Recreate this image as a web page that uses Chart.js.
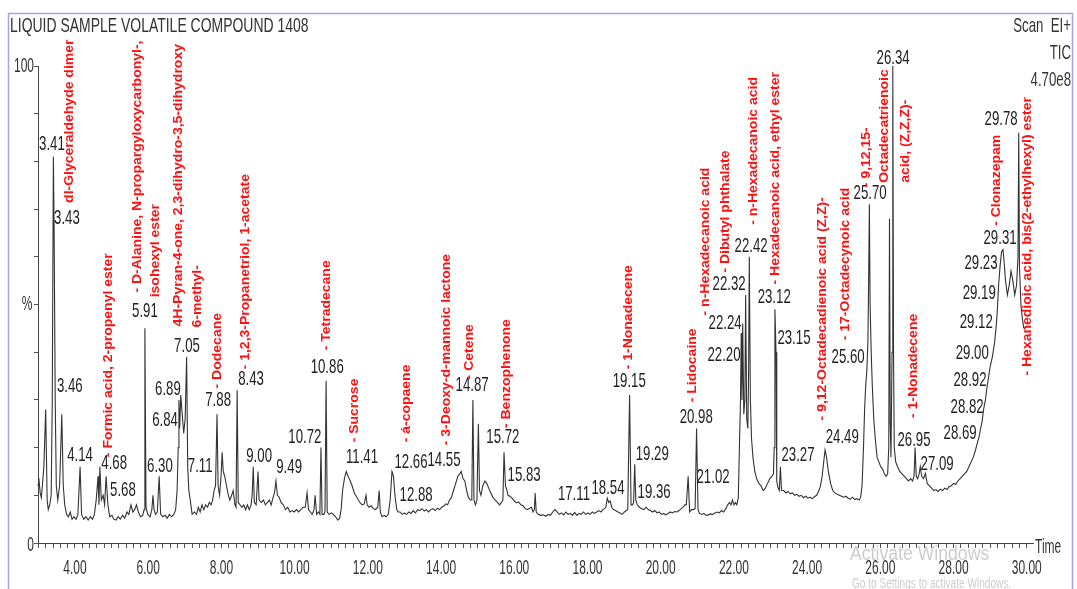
<!DOCTYPE html>
<html>
<head>
<meta charset="utf-8">
<script src="https://cdn.jsdelivr.net/npm/chart.js@4/dist/chart.umd.min.js"></script>
<style>
  html, body { margin: 0; padding: 0; background: #ffffff; }
  #wrap { width: 1077px; height: 589px; position: relative; }
</style>
</head>
<body>
<div id="wrap"><canvas id="tic" width="1077" height="589"></canvas></div>
<script>
// Total ion chromatogram, [retention time (min), relative abundance (%)]
const traceEarly = [
  [2.99,12],[3.02,13],[3.05,10.5],[3.08,9.5],[3.11,12],[3.15,16],[3.20,28],[3.24,9],[3.27,7],[3.31,8],[3.35,10],
  [3.38,30],[3.41,81],[3.43,66],[3.46,30],[3.49,12],[3.53,9],[3.58,12],[3.64,27],[3.68,12],[3.72,8],[3.77,6],
  [3.82,5.5],[3.87,6.5],[3.92,5],[3.97,5.5],[4.03,5],[4.08,6],[4.14,16],[4.18,6],[4.24,5],[4.30,5.5],[4.36,4.8],
  [4.42,5.5],[4.48,5],[4.53,6],[4.58,9],[4.63,14],[4.655,8],[4.68,16],[4.72,9],[4.77,10],[4.81,8],[4.85,14],
  [4.90,8],[4.95,5.5],[5.01,5.8],[5.06,5],[5.12,4.8],[5.18,5.5],[5.24,5],[5.30,5.8],[5.36,5.2],[5.42,6.5],[5.47,6],
  [5.53,8],[5.58,6.5],[5.63,7],[5.68,8],[5.73,6.5],[5.79,5.5],[5.85,5.8],[5.89,7],[5.91,45],[5.94,7.5],[5.99,6],
  [6.05,5.5],[6.10,7],[6.13,10],[6.16,7],[6.20,6],[6.25,6.5],[6.30,14],[6.34,6],[6.40,5.5],[6.46,5.8],[6.52,5.2],
  [6.58,6],[6.64,5.5],[6.70,6],[6.75,7],[6.79,11],[6.82,20],[6.84,30],[6.86,24],[6.89,31],[6.93,27],[6.97,23],
  [7.01,26],[7.05,39],[7.08,16],[7.11,11],[7.15,9],[7.20,6],[7.26,6.5],[7.32,6],[7.37,7.5],[7.42,6.5],[7.47,8],
  [7.52,7],[7.57,8],[7.62,7.5],[7.67,8.5],[7.72,8],[7.76,9],[7.80,11],[7.84,12],[7.88,27],[7.91,12],[7.95,10],
  [7.99,14],[8.02,19],[8.05,15],[8.09,14],[8.14,12],[8.19,10],[8.23,9],[8.28,10],[8.32,11],[8.37,8],[8.40,7.5],
  [8.43,32],[8.46,8.5],[8.51,8],[8.56,7.5],[8.61,8],[8.66,7],[8.71,8],[8.76,7],[8.81,8],[8.84,10],[8.87,16],
  [8.90,8.5],[8.95,8],[9.00,15],[9.03,9],[9.09,8.5],[9.15,9],[9.20,8],[9.26,8.5],[9.31,9],[9.36,8],[9.41,9.5],
  [9.45,10.5],[9.49,13],[9.53,10],[9.58,9.6],[9.63,8.5],[9.69,8],[9.75,7],[9.81,7.5],[9.87,6.5],[9.93,6.8],
  [9.99,6.5],[10.05,7],[10.11,6.5],[10.17,7],[10.23,7.5],[10.29,7.5],[10.34,10.5],[10.38,7],[10.43,6.5],[10.48,6],
  [10.53,7],[10.56,10],[10.60,6],[10.65,6.5],[10.69,6],[10.72,20],[10.75,6],[10.80,6],[10.83,6.5],[10.86,34],
  [10.89,6.5],[10.94,6],[11.00,6.3]
];
const traceMid = [
  [11.06,6],[11.12,5.5],[11.18,4.8],[11.23,5.2],[11.27,7],[11.31,11],[11.36,13.5],[11.41,15],[11.46,14],[11.52,13],
  [11.57,12],[11.63,10.5],[11.70,9.6],[11.78,8.5],[11.85,8],[11.90,8.2],[11.95,10],[11.98,8],[12.03,7.5],[12.09,7.8],
  [12.15,7.2],[12.21,7],[12.27,7.5],[12.31,11],[12.34,6.5],[12.39,5.5],[12.45,5.8],[12.50,5.5],[12.56,6],[12.61,9],
  [12.66,15],[12.70,14],[12.74,10],[12.79,7],[12.83,6.5],[12.88,6.5],[12.94,6],[13.00,6.3],[13.06,6],[13.12,6.5],
  [13.18,6.2],[13.24,6.8],[13.30,6.3],[13.36,7],[13.42,6.8],[13.48,7.2],[13.54,6.7],[13.60,7],[13.66,6.5],[13.72,7],
  [13.78,7.2],[13.84,6.8],[13.90,7.3],[13.96,7],[14.02,7.5],[14.08,7.8],[14.13,8.2],[14.18,8],[14.23,9],[14.28,9.5],
  [14.34,11],[14.40,12.5],[14.46,14],[14.51,14.5],[14.55,15],[14.60,13.5],[14.65,13],[14.70,11],[14.75,9.5],[14.80,9],
  [14.84,9],[14.87,30],[14.90,9],[14.94,8],[14.98,9],[15.02,25],[15.05,11],[15.09,10],[15.14,12],[15.20,13],
  [15.25,12.5],[15.30,11.5],[15.36,10.5],[15.42,9.5],[15.48,9],[15.54,8.5],[15.60,8],[15.65,8.5],[15.69,9],[15.72,19],
  [15.76,12],[15.80,11],[15.83,10],[15.88,9.8],[15.94,9.4],[16.00,8.8],[16.06,8.4],[16.12,8.6],[16.18,8],[16.24,7.8],
  [16.30,7.2],[16.36,7],[16.42,7.3],[16.47,7.5],[16.51,6.5],[16.55,7],[16.57,10.5],[16.60,6.5],[16.65,6],[16.72,5.8],
  [16.79,5.9],[16.86,5.6],[16.93,6],[16.99,5.8],[17.05,6.5],[17.11,7],[17.17,6.5],[17.23,6],[17.29,6.3],[17.35,5.9],
  [17.41,6.5],[17.47,6],[17.53,6.2],[17.59,5.8],[17.65,6.4],[17.71,5.8],[17.77,6.2],[17.83,6],[17.89,6.5],[17.95,6],
  [18.01,6.3],[18.07,6],[18.13,6.5],[18.19,6.2],[18.25,6.5],[18.31,6.8],[18.37,6.5],[18.42,7],[18.47,7.2],[18.50,7.5],
  [18.54,9.4],[18.58,8.5],[18.62,8.8],[18.66,7.5],[18.71,7],[18.77,6.8],[18.83,6.5],[18.89,6.3],[18.95,6],[19.01,6.5],
  [19.06,6.8],[19.10,7],[19.15,31],[19.19,8],[19.23,8],[19.26,8.5],[19.29,16.5],[19.32,9],[19.36,8],[19.42,7.5],
  [19.48,7.2],[19.54,7],[19.60,7.5],[19.66,7],[19.72,6.8],[19.78,6.5],[19.84,6.8],[19.90,6.3],[19.96,6.5],[20.02,6],
  [20.08,6.2],[20.14,5.9],[20.20,6.2],[20.26,6.5],[20.32,6.3],[20.38,6.6],[20.44,6.5],[20.50,6.8],[20.56,7.2],[20.61,7.5],
  [20.66,8],[20.70,8],[20.75,14],[20.79,6.5],[20.84,7],[20.89,7],[20.94,7.2],[20.98,24],[21.02,7],[21.06,6.2],
  [21.12,6],[21.18,6.2],[21.24,5.8],[21.30,5.9],[21.36,6.1],[21.42,6],[21.48,6.3]
];
const traceLate = [
  [21.54,6.5],[21.60,6.3],[21.66,6.8],[21.72,6.5],[21.78,7.2],[21.83,8],[21.88,8.5],[21.92,8],[21.96,9],[22.00,8],
  [22.04,8.5],[22.08,8],[22.12,9.5],[22.15,20],[22.18,30],[22.20,44],[22.22,30],[22.24,46],[22.27,27],[22.30,30],
  [22.32,52],[22.35,26],[22.38,24],[22.40,35],[22.42,60],[22.45,30],[22.48,22],[22.52,18],[22.57,15],[22.62,13.5],
  [22.68,12.5],[22.74,12],[22.80,11],[22.86,11.5],[22.92,12.5],[22.98,13.5],[23.04,14],[23.08,14.5],[23.10,20],[23.12,49],
  [23.15,40],[23.17,13],[23.20,11.7],[23.24,11],[23.27,16],[23.30,11],[23.36,11],[23.42,10.5],[23.48,10.8],[23.54,10.3],
  [23.60,10.5],[23.66,10],[23.72,10.2],[23.78,9.8],[23.84,10],[23.90,9.5],[23.96,9.8],[24.02,9.4],[24.08,9.6],[24.14,9.3],
  [24.20,9.7],[24.26,10],[24.31,10.8],[24.36,11.8],[24.41,14],[24.46,17.5],[24.49,19.5],[24.53,18],[24.58,15],[24.64,12.5],
  [24.70,11],[24.76,10.5],[24.82,10.2],[24.88,10],[24.94,9.8],[25.00,9.6],[25.06,9.8],[25.12,9.4],[25.18,9.2],[25.24,9.6],
  [25.30,9.1],[25.36,9.3],[25.42,9],[25.46,9.5],[25.50,12],[25.54,20],[25.57,28],[25.60,33],[25.63,36],[25.66,42],
  [25.68,55],[25.70,71],[25.72,50],[25.75,40],[25.78,33],[25.82,26],[25.86,22],[25.91,18],[25.96,17],[26.01,16],
  [26.06,15.5],[26.11,14.5],[26.16,14],[26.20,14.5],[26.23,20],[26.25,68],[26.27,25],[26.29,18],[26.32,40],[26.34,100],
  [26.36,40],[26.38,20],[26.42,17],[26.47,16],[26.53,15],[26.59,14.5],[26.65,14],[26.71,13.5],[26.77,13],[26.83,13.5],
  [26.88,13],[26.92,14],[26.95,20],[26.98,14],[27.02,13.5],[27.06,14.5],[27.09,16],[27.13,14],[27.18,13.5],[27.23,14.6],
  [27.28,12.5],[27.34,12],[27.40,11.5],[27.46,11],[27.52,11.2],[27.58,10.8],[27.64,11.3],[27.70,11],[27.76,11.5],[27.82,11.2],
  [27.88,11.8],[27.94,12],[28.00,12.5],[28.06,12.3],[28.12,13],[28.18,13.5],[28.24,14],[28.30,14.5],[28.36,15],[28.42,16],
  [28.48,17],[28.54,18],[28.60,19.5],[28.65,21],[28.69,22],[28.74,24],[28.78,25.5],[28.82,28],[28.87,30],[28.92,33],
  [28.96,35],[29.00,37],[29.06,39],[29.12,42],[29.16,45],[29.19,48],[29.23,54],[29.27,58],[29.31,61],[29.35,61.5],
  [29.38,59],[29.42,55],[29.47,52],[29.52,54],[29.57,57],[29.62,55],[29.67,52],[29.72,54],[29.76,60],[29.78,86],
  [29.80,58],[29.84,50],[29.88,47],[29.92,45]
];

// Retention-time labels printed above the peaks
const peakTimes = ['3.41','3.43','3.46','4.14','4.68','5.68','5.91','6.30','6.84','6.89','7.05','7.11','7.88','8.43',
  '9.00','9.49','10.72','10.86','11.41','12.66','12.88','14.55','14.87','15.72','15.83','17.11','18.54','19.15','19.29',
  '19.36','20.98','21.02','22.20','22.24','22.32','22.42','23.12','23.15','23.27','24.49','25.60','25.70','26.34','26.95',
  '27.09','28.69','28.82','28.92','29.00','29.12','29.19','29.23','29.31','29.78'];

// Compound identifications (one entry per printed line)
const compoundNames = ['dl-Glyceraldehyde dimer','- Formic acid, 2-propenyl ester','- D-Alanine, N-propargyloxycarbonyl-,',
  'isohexyl ester','4H-Pyran-4-one, 2,3-dihydro-3,5-dihydroxy','6-methyl-','- Dodecane','- 1,2,3-Propanetriol, 1-acetate',
  '- Tetradecane','- Sucrose','- á-copaene','- 3-Deoxy-d-mannoic lactone','- Cetene','- Benzophenone','- 1-Nonadecene',
  '- Lidocaine','- n-Hexadecanoic acid','- Dibutyl phthalate','- n-Hexadecanoic acid','- Hexadecanoic acid, ethyl ester',
  '- 9,12-Octadecadienoic acid (Z,Z)-','- 17-Octadecynoic acid','- 9,12,15-','Octadecatrienoic','acid, (Z,Z,Z)-',
  '- 1-Nonadecene','- Clonazepam','- Hexanedioic acid, bis(2-ethylhexyl) ester'];

const timeTickLabels = ['4.00','6.00','8.00','10.00','12.00','14.00','16.00','18.00','20.00','22.00','24.00','26.00','28.00','30.00'];

// Layout: where each text block sits, in axis units [time, %]
const peakLabelAt = [[3.37,83.7],[3.78,68.0],[3.86,32.8],[4.14,18.4],[5.07,16.7],[5.31,11.1],[5.91,48.5],[6.32,16.1],
  [6.46,25.7],[6.54,32.2],[7.06,41.2],[7.42,16.1],[7.91,29.9],[8.81,34.3],[9.03,18.2],[9.85,15.9],[10.28,22.2],[10.89,36.8],
  [11.84,18.0],[13.18,16.9],[13.32,10.0],[14.08,17.4],[14.85,33.1],[15.69,22.2],[16.27,14.2],[17.63,10.3],[18.56,11.5],
  [19.14,33.9],[19.77,18.6],[19.82,10.7],[20.97,26.4],[21.43,13.8],[21.73,39.3],[21.76,46.0],[21.87,54.2],[22.47,62.3],
  [23.10,51.5],[23.64,42.9],[23.75,18.4],[24.96,22.2],[25.12,38.9],[25.72,73.4],[26.35,101.7],[26.92,21.5],[27.55,16.5],
  [28.18,23.0],[28.37,28.5],[28.45,34.1],[28.51,39.7],[28.62,46.2],[28.70,52.3],[28.75,58.6],[29.27,64.0],[29.30,88.9]];
// [time of text column centre, % at the start of the text]
const compoundLabelAt = [[3.84,71.3],[4.90,18.0],[5.69,52.5],[6.19,51.5],[6.81,45.4],[7.33,45.2],[7.88,32.4],[8.64,36.4],
  [10.86,40.4],[11.62,21.1],[13.04,21.1],[14.14,20.5],[14.77,34.3],[15.78,24.1],[19.11,36.4],[20.86,29.5],[21.21,47.7],
  [21.76,56.7],[22.52,66.7],[23.13,54.2],[24.41,25.7],[25.04,42.5],[25.61,74.6],[26.10,75.5],[26.68,75.5],[26.90,26.2],
  [29.16,66.5],[30.01,35.1]];

const points = [...traceEarly, ...traceMid, ...traceLate].map(([t, v]) => ({ x: t, y: v }));

const minorTimes = [];
for (let i = 15; i <= 150; i++) minorTimes.push(i / 5);

const INK = '#222';
const NUM_FONT = '21px "Liberation Sans", Arial, sans-serif';
const AXIS_FONT = '20px "Liberation Sans", Arial, sans-serif';
const RED_FONT = 'bold 14px "Liberation Sans", Arial, sans-serif';

function narrowText(ctx, text, px, py, font, sx, align, color) {
  ctx.save();
  ctx.font = font;
  ctx.fillStyle = color;
  ctx.textAlign = align;
  ctx.textBaseline = 'middle';
  ctx.translate(px, py);
  ctx.scale(sx, 1);
  ctx.fillText(text, 0, 0);
  ctx.restore();
}

function upText(ctx, text, px, py, font, sy, color) {
  ctx.save();
  ctx.font = font;
  ctx.fillStyle = color;
  ctx.textAlign = 'left';
  ctx.textBaseline = 'middle';
  ctx.translate(px, py);
  ctx.rotate(-Math.PI / 2);
  ctx.scale(1, sy);
  ctx.fillText(text, 0, 0);
  ctx.restore();
}

const framePlugin = {
  id: 'frame',
  beforeDraw(chart) {
    const ctx = chart.ctx;
    ctx.save();
    ctx.fillStyle = '#ffffff';
    ctx.fillRect(0, 0, chart.width, chart.height);
    ctx.strokeStyle = '#a3a3e6';
    ctx.lineWidth = 1.5;
    ctx.strokeRect(8.5, 13.5, 1064, 600);
    ctx.restore();
  }
};

const annotatePlugin = {
  id: 'annotate',
  afterDraw(chart) {
    const ctx = chart.ctx;
    const xs = chart.scales.x, ys = chart.scales.y;

    // header
    narrowText(ctx, 'LIQUID SAMPLE VOLATILE COMPOUND 1408', 10, 26, NUM_FONT, 0.665, 'left', '#333');
    narrowText(ctx, 'Scan  EI+', 1071, 26, NUM_FONT, 0.63, 'right', '#333');
    narrowText(ctx, 'TIC', 1071, 53, NUM_FONT, 0.63, 'right', '#333');
    narrowText(ctx, '4.70e8', 1071, 80, NUM_FONT, 0.63, 'right', '#333');

    // axis labels
    timeTickLabels.forEach(s => {
      narrowText(ctx, s, xs.getPixelForValue(parseFloat(s)), 568, AXIS_FONT, 0.6, 'center', '#333');
    });
    narrowText(ctx, 'Time', 1035, 547, AXIS_FONT, 0.6, 'left', '#333');
    narrowText(ctx, '100', 34, ys.getPixelForValue(100), AXIS_FONT, 0.6, 'right', '#333');
    narrowText(ctx, '0', 34, ys.getPixelForValue(0) + 2, AXIS_FONT, 0.6, 'right', '#333');
    narrowText(ctx, '%', 27, ys.getPixelForValue(50), AXIS_FONT, 0.6, 'center', '#333');

    // retention times
    peakTimes.forEach((s, i) => {
      const [t, v] = peakLabelAt[i];
      narrowText(ctx, s, xs.getPixelForValue(t), ys.getPixelForValue(v), NUM_FONT, 0.63, 'center', INK);
    });

    // compound names
    compoundNames.forEach((s, i) => {
      const [t, v] = compoundLabelAt[i];
      upText(ctx, s, xs.getPixelForValue(t), ys.getPixelForValue(v), RED_FONT, 0.95, '#ff1010');
    });

    // system watermark
    narrowText(ctx, 'Activate Windows', 850, 554, '21px "Liberation Sans", Arial, sans-serif', 0.84, 'left', 'rgba(170,170,170,0.6)');
    narrowText(ctx, 'Go to Settings to activate Windows.', 852, 584, '14px "Liberation Sans", Arial, sans-serif', 0.72, 'left', 'rgba(170,170,170,0.6)');
  }
};

new Chart(document.getElementById('tic'), {
  type: 'line',
  data: {
    datasets: [{
      data: points,
      borderColor: '#333333',
      borderWidth: 1.1,
      pointRadius: 0,
      tension: 0,
      clip: 6
    }]
  },
  options: {
    responsive: false,
    animation: false,
    devicePixelRatio: 1,
    parsing: false,
    layout: { padding: { top: 66, right: 44, left: 0, bottom: 0 } },
    plugins: { legend: { display: false }, tooltip: { enabled: false } },
    scales: {
      x: {
        type: 'linear', min: 2.99, max: 30.17,
        grid: { display: true, drawOnChartArea: false, drawTicks: true, tickLength: 5, color: '#555', lineWidth: 1 },
        border: { display: true, color: '#444', width: 1 },
        ticks: { display: false, includeBounds: false },
        afterBuildTicks: s => { s.ticks = minorTimes.map(v => ({ value: v })); },
        afterFit: s => { s.height = 46; }
      },
      y: {
        type: 'linear', min: 0, max: 100,
        grid: { display: true, drawOnChartArea: false, drawTicks: true, tickLength: 4, color: '#555', lineWidth: 1 },
        border: { display: true, color: '#444', width: 1 },
        ticks: { display: false, stepSize: 10 },
        afterFit: s => { s.width = 38; }
      }
    }
  },
  plugins: [framePlugin, annotatePlugin]
});
</script>
</body>
</html>
